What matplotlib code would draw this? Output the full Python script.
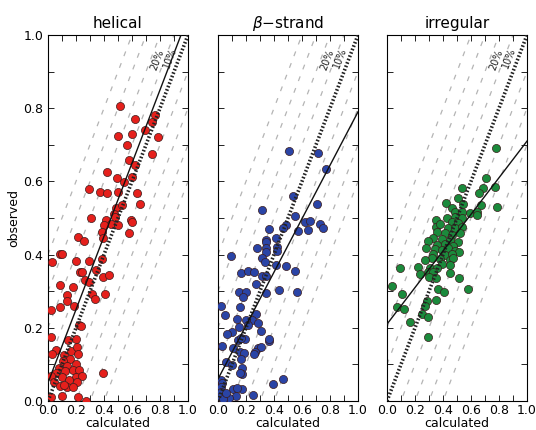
# Calculated vs observed secondary structure fractions (three panels)

import numpy as np
import matplotlib
matplotlib.use('Agg')
import matplotlib.pyplot as plt
from matplotlib.ticker import MultipleLocator

# ---- data ----
helical_x = [0.514, 0.62, 0.767, 0.743, 0.693, 0.502, 0.598, 0.783, 0.562, 0.745,
             0.579, 0.621, 0.424, 0.598, 0.490, 0.543, 0.293, 0.371, 0.419, 0.502,
             0.633, 0.657, 0.486, 0.526, 0.471,
             0.305, 0.479, 0.414, 0.448, 0.40, 0.502, 0.59, 0.60, 0.383, 0.395,
             0.579, 0.217, 0.257, 0.026, 0.086, 0.10, 0.20, 0.295, 0.383, 0.231,
             0.245, 0.343, 0.395, 0.436, 0.262, 0.295, 0.086, 0.176,
             0.138, 0.138, 0.086, 0.186, 0.317, 0.333, 0.405, 0.024, 0.221, 0.238,
             0.024, 0.143, 0.202, 0.057, 0.031, 0.162, 0.21, 0.217, 0.114, 0.157,
             0.109, 0.198, 0.138, 0.079, 0.181, 0.221, 0.119, 0.055, 0.024, 0.102,
             0.198, 0.245, 0.395, 0.043, 0.15, 0.21, 0.086, 0.138, 0.181, 0.114,
             0.019, 0.102, 0.217, 0.269]
helical_y = [0.806, 0.77, 0.781, 0.761, 0.740, 0.724, 0.730, 0.722, 0.699, 0.676,
             0.658, 0.645, 0.625, 0.611, 0.610, 0.599, 0.580, 0.571, 0.567, 0.572,
             0.569, 0.538, 0.526, 0.535, 0.510,
             0.499, 0.504, 0.495, 0.483, 0.481, 0.481, 0.495, 0.49, 0.461, 0.445,
             0.458, 0.449, 0.437, 0.381, 0.402, 0.402, 0.383, 0.383, 0.388, 0.353,
             0.353, 0.358, 0.340, 0.344, 0.331, 0.326, 0.317, 0.312,
             0.290, 0.274, 0.258, 0.260, 0.292, 0.278, 0.292, 0.249, 0.208, 0.206,
             0.176, 0.167, 0.169, 0.139, 0.128, 0.137, 0.148, 0.128, 0.126, 0.114,
             0.110, 0.101, 0.096, 0.089, 0.085, 0.085, 0.082, 0.077, 0.068, 0.066,
             0.065, 0.068, 0.076, 0.053, 0.057, 0.051, 0.041, 0.039, 0.039, 0.045,
             0.012, 0.014, 0.012, 0.001]

strand_x = [0.510, 0.717, 0.771, 0.538, 0.705, 0.312, 0.55,
            0.621, 0.657, 0.729, 0.748, 0.486, 0.467, 0.367, 0.574, 0.645, 0.414,
            0.343, 0.343, 0.281, 0.343, 0.424, 0.424, 0.093, 0.343, 0.312, 0.333,
            0.414, 0.486, 0.55, 0.162, 0.217, 0.26, 0.312, 0.343, 0.271, 0.152,
            0.2, 0.176, 0.343, 0.438, 0.562, 0.019, 0.157, 0.05, 0.133, 0.271,
            0.241, 0.2, 0.217, 0.152, 0.288, 0.098, 0.067, 0.305, 0.193, 0.145,
            0.167, 0.367, 0.367, 0.026, 0.288, 0.305, 0.105, 0.157, 0.264, 0.257,
            0.188, 0.162, 0.057, 0.098, 0.169, 0.169, 0.157, 0.019, 0.031, 0.462,
            0.390, 0.019, 0.105, 0.169, 0.138, 0.019, 0.129, 0.081, 0.252, 0.014,
            0.036, 0.057]
strand_y = [0.684, 0.677, 0.633, 0.560, 0.538, 0.522, 0.505,
            0.490, 0.492, 0.483, 0.474, 0.481, 0.474, 0.470, 0.464, 0.467, 0.446,
            0.440, 0.434, 0.417, 0.417, 0.420, 0.410, 0.396, 0.407, 0.390, 0.380,
            0.372, 0.369, 0.356, 0.349, 0.355, 0.352, 0.342, 0.342, 0.321, 0.299,
            0.299, 0.285, 0.296, 0.303, 0.297, 0.260, 0.258, 0.235, 0.224, 0.238,
            0.221, 0.221, 0.208, 0.203, 0.212, 0.189, 0.182, 0.191, 0.169, 0.167,
            0.173, 0.164, 0.17, 0.151, 0.146, 0.148, 0.144, 0.135, 0.135, 0.128,
            0.130, 0.115, 0.107, 0.098, 0.089, 0.073, 0.076, 0.057, 0.048, 0.060,
            0.046, 0.039, 0.033, 0.033, 0.036, 0.025, 0.014, 0.009, 0.016, 0.012,
            0.005, 0.022]

irregular_x = [0.779, 0.707, 0.538, 0.683, 0.771, 0.660, 0.510, 0.421, 0.462, 0.541,
               0.671, 0.783, 0.593, 0.641, 0.486, 0.538,
               0.35, 0.426, 0.486, 0.533, 0.64, 0.462, 0.51, 0.35, 0.379, 0.438,
               0.486, 0.533, 0.355, 0.414, 0.462, 0.521, 0.331, 0.39, 0.45, 0.51,
               0.295, 0.355, 0.414, 0.474, 0.279, 0.343, 0.39, 0.438, 0.486, 0.517,
               0.331, 0.414, 0.462, 0.319, 0.379, 0.45, 0.271, 0.474, 0.39, 0.45,
               0.224, 0.093, 0.307, 0.355, 0.236, 0.295, 0.331, 0.45, 0.302, 0.35,
               0.517, 0.033, 0.367, 0.407, 0.576, 0.105, 0.283, 0.35, 0.069, 0.121,
               0.271, 0.248, 0.295, 0.164, 0.295]
irregular_y = [0.690, 0.608, 0.583, 0.581, 0.585, 0.567, 0.556, 0.540, 0.526, 0.538,
               0.536, 0.531, 0.513, 0.516, 0.517, 0.517,
               0.495, 0.499, 0.504, 0.501, 0.508, 0.49, 0.486, 0.476, 0.483, 0.472,
               0.474, 0.476, 0.463, 0.458, 0.454, 0.458, 0.445, 0.443, 0.44, 0.435,
               0.437, 0.426, 0.428, 0.424, 0.417, 0.415, 0.413, 0.417, 0.41, 0.406,
               0.401, 0.399, 0.403, 0.39, 0.388, 0.385, 0.385, 0.39, 0.373, 0.372,
               0.367, 0.364, 0.363, 0.364, 0.346, 0.352, 0.353, 0.349, 0.34, 0.337,
               0.337, 0.315, 0.306, 0.299, 0.306, 0.292, 0.273, 0.276, 0.258, 0.251,
               0.26, 0.237, 0.23, 0.217, 0.176]

titles = ['helical', '$\\beta$\u2212strand', 'irregular']
point_colors = ['#e5201c', '#2a44a6', '#1b8a3c']

# fitted regression lines (intercept, slope) as drawn in the reference
fit_intercept = [0.05, 0.06, 0.21]
fit_slope = [1.0, 0.73, 0.50]

# parallel error bands y = x + offset, two of them labelled near the top
band_offsets = [-0.4, -0.3, -0.2, -0.1, 0.1, 0.2, 0.3, 0.4]
band_labels = ['10%', '20%']
label_pos = [(0.871, 0.936), (0.781, 0.932)]

series = [(helical_x, helical_y), (strand_x, strand_y), (irregular_x, irregular_y)]

fig = plt.figure(figsize=(5.36, 4.30), dpi=100)
lefts = [48 / 536., 218 / 536., 387 / 536.]
bottom = 29 / 430.
width = 140 / 536.
height = 366 / 430.

xx = np.array([0.0, 1.0])
for i, (xs, ys) in enumerate(series):
    ax = fig.add_axes([lefts[i], bottom, width, height])

    for off in band_offsets:
        ax.plot(xx, xx + off, color='#b4b4b4', lw=0.9, ls=(0, (4, 6)), zorder=1)

    ax.scatter(xs, ys, s=34, c=point_colors[i], edgecolors='#3a1a1a',
               linewidths=0.5, zorder=3)

    ax.plot(xx, xx, color='#222222', lw=2.6, ls=(0, (0.45, 0.55)), zorder=4)
    ax.plot(xx, fit_intercept[i] + fit_slope[i] * xx, color='#111111', lw=1.0, zorder=5)

    for lab, (lx, ly) in zip(band_labels, label_pos):
        ax.text(lx, ly, lab, fontsize=7, rotation=69, ha='center', va='center',
                color='#222222', zorder=6)

    ax.set_xlim(0, 1)
    ax.set_ylim(0, 1)
    ax.xaxis.set_major_locator(MultipleLocator(0.2))
    ax.yaxis.set_major_locator(MultipleLocator(0.2))
    ax.xaxis.set_minor_locator(MultipleLocator(0.1))
    ax.yaxis.set_minor_locator(MultipleLocator(0.1))
    ax.tick_params(which='both', direction='in', top=True, right=True,
                   length=4, width=0.6, labelsize=9)
    ax.tick_params(axis='x', pad=2)
    ax.set_title(titles[i], fontsize=11, pad=5)
    ax.set_xlabel('calculated', fontsize=9, labelpad=0)
    if i == 0:
        ax.set_ylabel('observed', fontsize=9, labelpad=2)
    else:
        ax.tick_params(labelleft=False)

fig.savefig('out.png', dpi=100)
